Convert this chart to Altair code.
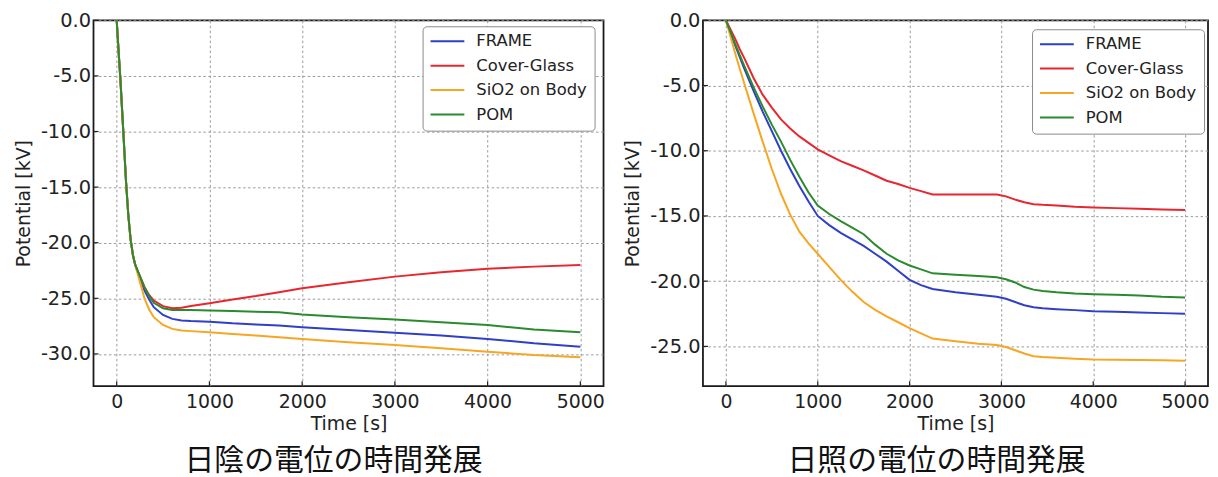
import altair as alt
import pandas as pd

SERIES = ["FRAME", "Cover-Glass", "SiO2 on Body", "POM"]
COLORS = ["#2f3fc8", "#e8262f", "#f6a623", "#2b8a2e"]

X_TICKS = [0, 1000, 2000, 3000, 4000, 5000]
Y_TICKS_SHADE = [0, -5, -10, -15, -20, -25, -30]
Y_TICKS_SUN = [0, -5, -10, -15, -20, -25]

CAPTION_SHADE = "日陰の電位の時間発展"
CAPTION_SUN = "日照の電位の時間発展"

# ---- 日陰 (eclipse) ----
t_shade = [0, 20, 40, 60, 80, 100, 125, 150, 175, 200, 250, 300, 350, 400, 500,
           600, 700, 800, 1000, 1250, 1500, 1750, 2000, 2500, 3000, 3500, 4000, 4500, 5000]
shade_frame = [0, -2.7, -5.3, -8.3, -11.3, -14.4, -17.5, -19.7, -21.1, -22.0, -23.1, -24.3, -25.1, -25.8, -26.5,
               -26.85, -27.0, -27.05, -27.1, -27.25, -27.35, -27.45, -27.6, -27.85, -28.1, -28.35, -28.65, -29.05, -29.35]
shade_cover = [0, -2.7, -5.3, -8.3, -11.3, -14.4, -17.5, -19.7, -21.1, -22.0, -23.0, -24.0, -24.7, -25.2, -25.7,
               -25.9, -25.85, -25.7, -25.45, -25.1, -24.8, -24.45, -24.1, -23.55, -23.05, -22.65, -22.35, -22.15, -22.0]
shade_sio2 = [0, -2.7, -5.3, -8.3, -11.3, -14.4, -17.5, -19.7, -21.1, -22.0, -23.5, -25.0, -26.0, -26.7, -27.4,
              -27.75, -27.9, -27.95, -28.05, -28.2, -28.35, -28.5, -28.65, -28.95, -29.2, -29.5, -29.8, -30.1, -30.3]
shade_pom = [0, -2.7, -5.3, -8.3, -11.3, -14.4, -17.5, -19.7, -21.1, -22.0, -23.0, -24.0, -24.8, -25.4, -25.9,
             -26.05, -26.05, -26.05, -26.1, -26.15, -26.2, -26.25, -26.45, -26.7, -26.9, -27.15, -27.4, -27.8, -28.05]

# ---- 日照 (sunlit) ----
t_sun = [0, 50, 100, 150, 200, 300, 400, 500, 600, 700, 800, 900, 1000, 1125, 1250, 1375, 1500,
         1625, 1750, 1875, 2000, 2125, 2250, 2500, 2750, 2950, 3050, 3150, 3250, 3350, 3450,
         3600, 3800, 4000, 4250, 4500, 4750, 5000]
sun_frame = [0, -0.95, -1.9, -2.8, -3.7, -5.4, -7.0, -8.5, -10.0, -11.4, -12.7, -13.9, -15.0, -15.7, -16.3,
             -16.8, -17.3, -17.9, -18.5, -19.2, -19.9, -20.3, -20.6, -20.85, -21.05, -21.2, -21.35, -21.6,
             -21.85, -22.0, -22.08, -22.15, -22.22, -22.3, -22.35, -22.4, -22.45, -22.5]
sun_cover = [0, -0.7, -1.4, -2.2, -2.9, -4.4, -5.7, -6.7, -7.6, -8.3, -8.9, -9.4, -9.9, -10.35, -10.8,
             -11.15, -11.5, -11.9, -12.3, -12.55, -12.85, -13.1, -13.35, -13.35, -13.35, -13.35, -13.5, -13.75,
             -13.95, -14.1, -14.15, -14.2, -14.3, -14.35, -14.4, -14.45, -14.5, -14.55]
sun_sio2 = [0, -1.25, -2.5, -3.7, -4.85, -7.1, -9.3, -11.4, -13.3, -14.9, -16.2, -17.1, -17.9, -18.9, -19.9,
            -20.8, -21.6, -22.2, -22.7, -23.15, -23.6, -24.0, -24.4, -24.6, -24.8, -24.9, -25.05, -25.3,
            -25.55, -25.75, -25.82, -25.88, -25.95, -26.0, -26.02, -26.05, -26.07, -26.1]
sun_pom = [0, -0.9, -1.8, -2.65, -3.5, -5.1, -6.6, -8.0, -9.3, -10.7, -12.0, -13.2, -14.2, -14.85, -15.4,
           -15.9, -16.4, -17.2, -17.9, -18.4, -18.8, -19.1, -19.4, -19.5, -19.6, -19.7, -19.85, -20.1,
           -20.45, -20.65, -20.75, -20.85, -20.95, -21.0, -21.05, -21.1, -21.2, -21.25]

FONT = "DejaVu Sans"
TXT = "#222222"


def long_df(t, cols):
    rows = []
    for name, vals in zip(SERIES, cols):
        for i, (tt, vv) in enumerate(zip(t, vals)):
            rows.append({"t": tt, "v": vv, "series": name, "o": i})
    return pd.DataFrame(rows)


def panel(df, ydom, yticks, caption, dx, W, H, legend_y):
    xs = alt.Scale(domain=[-250, 5250], nice=False, zero=False)
    ys = alt.Scale(domain=ydom, nice=False, zero=False)
    xaxis = alt.Axis(values=X_TICKS, format="d", title="Time [s]", grid=True,
                     gridDash=[2.5, 2.5], gridColor="#9a9a9a", gridWidth=1,
                     domain=False, ticks=False, labelPadding=6, labelFontSize=19,
                     titleFontSize=19, titlePadding=4, labelFont=FONT, titleFont=FONT,
                     labelColor=TXT, titleColor=TXT, titleFontWeight="normal")
    yaxis = alt.Axis(values=yticks,
                     labelExpr="(datum.value < 0 ? '-' : '') + format(abs(datum.value), '.1f')",
                     title="Potential [kV]", grid=True, gridDash=[2.5, 2.5],
                     gridColor="#9a9a9a", gridWidth=1, domain=False, ticks=False,
                     labelPadding=3, labelFontSize=19.5, titleFontSize=19, titlePadding=7,
                     labelFont=FONT, titleFont=FONT, labelColor=TXT, titleColor=TXT,
                     titleFontWeight="normal")
    legend = alt.Legend(title=None, orient="none", legendX=331, legendY=legend_y,
                        symbolType="stroke", symbolSize=1156, symbolStrokeWidth=2,
                        clipHeight=16, rowPadding=7.6, labelOffset=11, padding=7,
                        labelFontSize=16.5, labelFont=FONT, labelColor=TXT,
                        strokeColor="#8a8a8a", fillColor="white", cornerRadius=4)
    lines = alt.Chart(df).mark_line(strokeWidth=2).encode(
        x=alt.X("t:Q", scale=xs, axis=xaxis),
        y=alt.Y("v:Q", scale=ys, axis=yaxis),
        color=alt.Color("series:N", scale=alt.Scale(domain=SERIES, range=COLORS),
                        sort=SERIES, legend=legend),
        order="o:Q",
    )
    xt = alt.Chart(pd.DataFrame({"t": X_TICKS})).mark_rule(color=TXT, strokeWidth=1.2).encode(
        x=alt.X("t:Q", scale=xs, axis=xaxis), y=alt.value(H), y2=alt.value(H - 5))
    yt = alt.Chart(pd.DataFrame({"v": yticks})).mark_rule(color=TXT, strokeWidth=1.2).encode(
        y=alt.Y("v:Q", scale=ys, axis=yaxis), x=alt.value(0), x2=alt.value(5))
    return alt.layer(lines, xt, yt).properties(
        width=W, height=H,
        view=alt.ViewBackground(stroke="#1a1a1a", strokeWidth=1.8, fill="white"),
        title=alt.TitleParams(caption, orient="bottom", anchor="middle", frame="group",
                              fontSize=30, font="Noto Sans CJK JP", fontWeight="normal",
                              dx=dx, offset=12, color="#111111"))


left = panel(long_df(t_shade, [shade_frame, shade_cover, shade_sio2, shade_pom]),
             [-32.9, 0], Y_TICKS_SHADE, CAPTION_SHADE, -15, 513, 368, 6)
right = panel(long_df(t_sun, [sun_frame, sun_cover, sun_sio2, sun_pom]),
              [-28.05, 0], Y_TICKS_SUN, CAPTION_SUN, -19, 508, 368, 9)

chart = alt.hconcat(left, right, spacing=17).resolve_scale(color="independent").properties(
    padding={"left": 5, "top": 0, "right": 0, "bottom": 0}
).configure_view(stroke="#1a1a1a", strokeWidth=1.8).configure(font=FONT)

chart.save("out.html", embed_options={"renderer": "svg", "actions": False})
